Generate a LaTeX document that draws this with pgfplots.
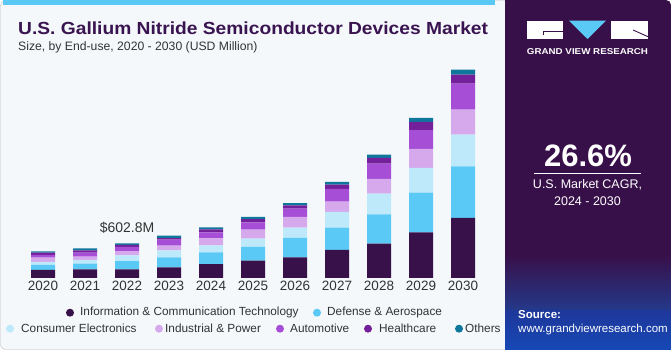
\documentclass[border=0pt]{standalone}
\usepackage{pgfplots}
\pgfplotsset{compat=1.18}
\usepackage{pgfplotstable}
\usepackage{fontspec}
\setmainfont{Liberation Sans}
\definecolor{cICT}{HTML}{38114A}
\definecolor{cDef}{HTML}{5BC9F5}
\definecolor{cCons}{HTML}{BDE9FA}
\definecolor{cInd}{HTML}{D5A9EC}
\definecolor{cAuto}{HTML}{A64FD6}
\definecolor{cHC}{HTML}{73209A}
\definecolor{cOth}{HTML}{0F779B}
\definecolor{bgc}{HTML}{F4F8FB}
\definecolor{panel}{HTML}{381049}
\definecolor{titlec}{HTML}{3A1450}
\definecolor{txt}{HTML}{333333}
\definecolor{stripe}{HTML}{5BC9F5}
\pgfplotstableread{
x ict def cons ind auto hc oth
0 139 87 52 75 47 40 23
1 151 99 64 57 70 40 35
2 151 144 99 75 70 35 29
3 186 174 122 82 104 23 47
4 243 203 122 122 104 52 35
5 301 238 144 156 127 57 40
6 360 335 179 186 144 57 40
7 487 387 273 179 221 75 47
8 596 509 360 255 266 99 57
9 794 690 429 330 325 144 70
10 1043 898 551 434 452 156 87
}\data
\begin{document}
\begin{tikzpicture}
\begin{scope}[x=1pt,y=1pt]
\useasboundingbox (0,0) rectangle (671,350);
\fill[bgc,rounded corners=5pt] (0,0) rectangle (671,350);
\draw[black!25,rounded corners=5pt] (0.5,0.5) rectangle (670.5,349.5);
\fill[stripe] (3,345) rectangle (495,350);
% right panel
\fill[panel,rounded corners=5pt] (505,0) rectangle (671,350);
\fill[panel] (505,0) rectangle (520,350);
\shade[top color=panel, bottom color=panel!55!cyan!70!blue] (505,0) rectangle (671,95);
\fill[panel!70!cyan!60!blue, opacity=0.4] (505,0) rectangle (671,40);
% logo
\fill[white] (527,310.7) rectangle (563,329.3);
\draw[panel,line width=0.9pt] (563,318.5) -- (543,318.5) -- (543,315);
\fill[cDef] (569,329.3) -- (606,329.3) -- (587.5,311) -- cycle;
\fill[white] (611,310.7) rectangle (648,329.3);
\draw[panel,line width=0.9pt] (633,320) -- (648,313.3);
\node[white,font=\fontsize{8.5}{9}\selectfont\bfseries] at (587.5,298.3) {\scalebox{1.15}[1]{GRAND VIEW RESEARCH}};
\node[white,font=\fontsize{31}{34}\selectfont\bfseries] at (588,194.5) {26.6\%};
\draw[white,line width=0.8pt] (534,176.7) -- (641,176.7);
\node[white,font=\fontsize{12.5}{14}\selectfont] at (587.5,165.5) {U.S. Market CAGR,};
\node[white,font=\fontsize{12.5}{14}\selectfont] at (587.5,149) {2024 - 2030};
\node[white,anchor=west,inner sep=0,font=\fontsize{11.5}{13}\selectfont\bfseries] at (518,35) {Source:};
\node[white,anchor=west,inner sep=0,font=\fontsize{11.5}{13}\selectfont] at (518,20) {www.grandviewresearch.com};
% titles
\node[anchor=west,inner sep=0,text=titlec,font=\fontsize{17.5}{19}\selectfont\bfseries] at (18,322) {\scalebox{1.098}[1]{U.S. Gallium Nitride Semiconductor Devices Market}};
\node[anchor=west,inner sep=0,text=txt,font=\fontsize{12.2}{14}\selectfont] at (18,303) {Size, by End-use, 2020 - 2030 (USD Million)};
% legend
\begin{scope}[every node/.style={anchor=west,inner sep=0,text=txt,font=\fontsize{11.8}{13}\selectfont}]
\fill[cICT] (70,37.3) circle (4);  \node at (80,37.3) {Information \& Communication Technology};
\fill[cDef] (317,37.3) circle (4); \node at (327,37.3) {Defense \& Aerospace};
\fill[cCons] (10,21.3) circle (4); \node at (21,21.3) {Consumer Electronics};
\fill[cInd] (159,21.3) circle (4); \node at (165,21.3) {Industrial \& Power};
\fill[cAuto] (280,21.3) circle (4); \node at (290,21.3) {Automotive};
\fill[cHC] (368,21.3) circle (4); \node at (379,21.3) {Healthcare};
\fill[cOth] (459,21.3) circle (4); \node at (465,21.3) {Others};
\end{scope}
\end{scope}
\begin{axis}[at={(22pt,72pt)}, anchor=south west, scale only axis,
  width=462pt, height=218pt, xmin=-0.5, xmax=10.5, ymin=0, ymax=3787,
  ybar stacked, bar width=24pt, axis line style={draw=none},
  ytick=\empty, xtick=data, xticklabels={2020,2021,2022,2023,2024,2025,2026,2027,2028,2029,2030},
  major tick style={draw=none},
  xticklabel style={font=\fontsize{13.5}{15}\selectfont, text=txt},
  clip=false]
\addplot[fill=cICT,draw=none] table[x=x,y=ict]{\data};
\addplot[fill=cDef,draw=none] table[x=x,y=def]{\data};
\addplot[fill=cCons,draw=none] table[x=x,y=cons]{\data};
\addplot[fill=cInd,draw=none] table[x=x,y=ind]{\data};
\addplot[fill=cAuto,draw=none] table[x=x,y=auto]{\data};
\addplot[fill=cHC,draw=none] table[x=x,y=hc]{\data};
\addplot[fill=cOth,draw=none] table[x=x,y=oth]{\data};
\node[text=txt,font=\fontsize{14}{16}\selectfont] at (axis cs:2,603) [yshift=15pt] {\$602.8M};
\end{axis}
\end{tikzpicture}
\end{document}
